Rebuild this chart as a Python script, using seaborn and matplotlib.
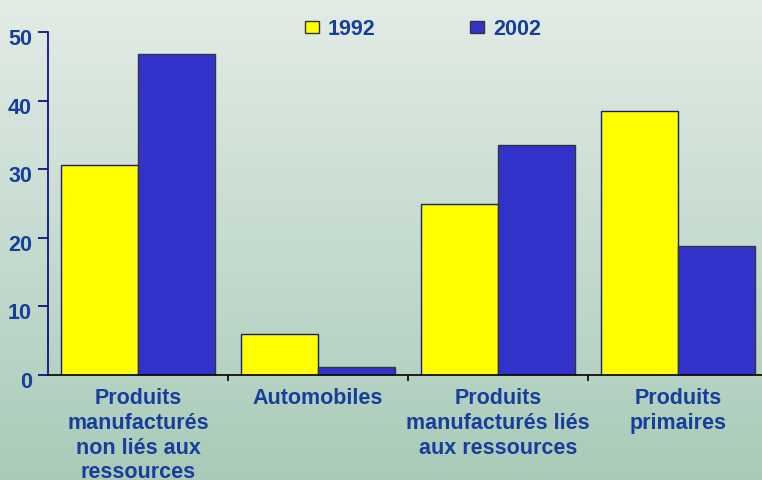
import numpy as np
import pandas as pd
import matplotlib
matplotlib.use("Agg")
import matplotlib.pyplot as plt
import matplotlib.transforms as mtransforms
import seaborn as sns

# Données
categories = ["Produits\nmanufacturés\nnon liés aux\nressources",
              "Automobiles",
              "Produits\nmanufacturés liés\naux ressources",
              "Produits\nprimaires"]
annees = ["1992", "2002"]
valeurs_1992 = [30.6, 6.0, 24.9, 38.5]
valeurs_2002 = [46.8, 1.2, 33.5, 18.8]
yticks = [0, 10, 20, 30, 40, 50]

couleurs = {"1992": "#ffff00", "2002": "#3333cc"}
bleu_texte = "#163e9b"

df = pd.DataFrame({
    "Catégorie": categories * 2,
    "Année": ["1992"] * 4 + ["2002"] * 4,
    "Valeur": valeurs_1992 + valeurs_2002,
})

sns.set_style("white")
plt.rcParams["font.family"] = ["Liberation Sans", "DejaVu Sans"]
plt.rcParams["font.weight"] = "bold"

fig = plt.figure(figsize=(7.62, 4.81), dpi=100)

# Fond en dégradé
fond = fig.add_axes([0, 0, 1, 1], zorder=0)
haut = np.array([0.890, 0.925, 0.902])
bas = np.array([0.663, 0.796, 0.722])
t = np.linspace(0, 1, 256)[:, None, None]
grad = haut * (1 - t) + bas * t
grad = np.repeat(grad, 2, axis=1)
fond.imshow(grad, aspect="auto", extent=[0, 1, 0, 1])
fond.axis("off")

ax = fig.add_axes([48 / 762, 1 - 376 / 481, 720 / 762, (376 - 33) / 481], zorder=1)
ax.patch.set_alpha(0)

sns.barplot(data=df, x="Catégorie", y="Valeur", hue="Année", palette=couleurs,
            saturation=1, width=0.856, gap=0, ax=ax, edgecolor="#333340",
            linewidth=1.0)
for bar in ax.patches[:4]:
    bar.set_edgecolor("#1a1a80")

ax.set_xlim(-0.5, 3.5)
ax.set_ylim(0, 50)
ax.set_yticks(yticks)
ax.set_xlabel("")
ax.set_ylabel("")

for s in ["top", "right"]:
    ax.spines[s].set_visible(False)
ax.spines["left"].set_color("#000080")
ax.spines["left"].set_linewidth(1.2)
ax.spines["bottom"].set_color("black")
ax.spines["bottom"].set_linewidth(1.2)

ax.tick_params(axis="y", direction="out", length=7, width=1.2, color="#000080",
               labelsize=15.5, labelcolor=bleu_texte, pad=4.5, left=True)
ax.set_xticks(range(4))
ax.set_xticklabels(categories, fontsize=15.5, color=bleu_texte, linespacing=1.22,
                   fontweight="bold")
ax.tick_params(axis="x", length=0, pad=9)
ax.set_xticks([0.5, 1.5, 2.5], minor=True)
ax.tick_params(axis="x", which="minor", direction="out", length=4, width=1.2,
               color="black", bottom=True)

# les chiffres de l'axe y sont un peu plus bas que les graduations
decal = mtransforms.ScaledTranslation(0, -4 / 100, fig.dpi_scale_trans)
for lbl in ax.get_yticklabels():
    lbl.set_fontweight("bold")
    lbl.set_transform(lbl.get_transform() + decal)

sns.move_legend(ax, "upper center", bbox_to_anchor=(423 / 762, 1.0),
                bbox_transform=fig.transFigure, ncol=2, frameon=False, title=None,
                handlelength=0.65, handleheight=0.46, handletextpad=0.4,
                columnspacing=4.4, fontsize=15.5, borderaxespad=0.5)
leg = ax.get_legend()
for txt in leg.get_texts():
    txt.set_color(bleu_texte)
    txt.set_fontweight("bold")
for h in leg.legend_handles:
    h.set_linewidth(1.0)

fig.savefig("out.png", dpi=100)
